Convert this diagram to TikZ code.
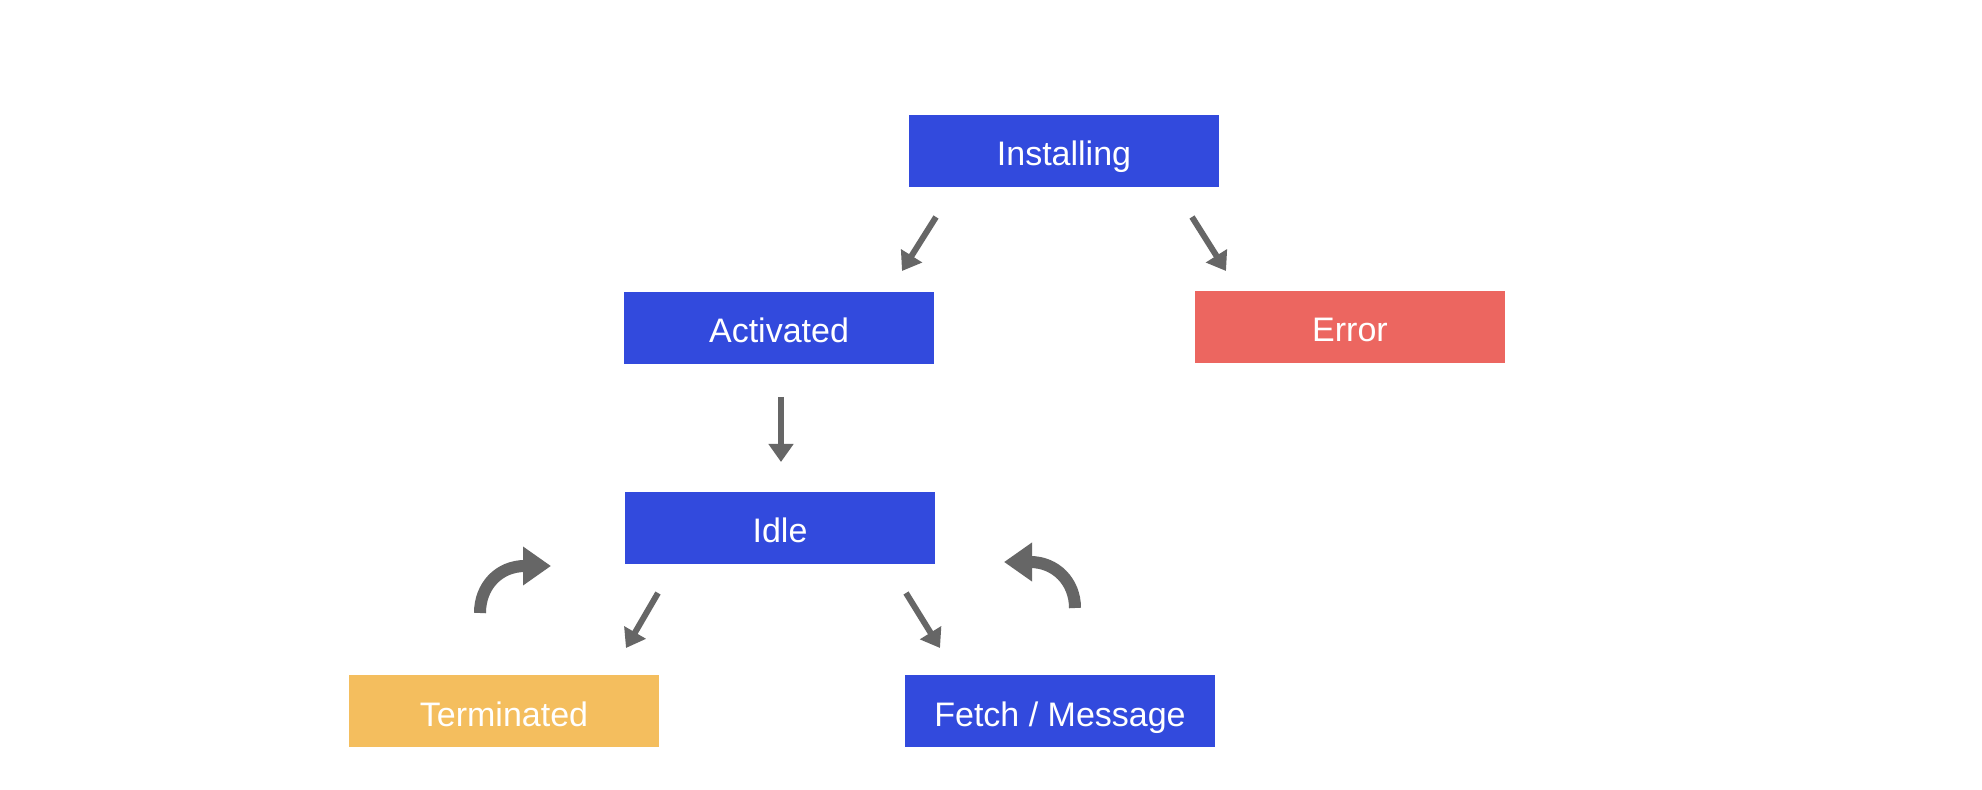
\documentclass[tikz,border=0pt]{standalone}
\usepackage{fontspec}
\setmainfont{Liberation Sans}
\usetikzlibrary{arrows.meta}
\definecolor{stblue}{RGB}{50,74,221}
\definecolor{stred}{RGB}{236,102,96}
\definecolor{styellow}{RGB}{244,190,94}
\definecolor{arrgray}{RGB}{102,102,102}
\begin{document}
\begin{tikzpicture}[x=0.5pt,y=-0.5pt,
  state/.style={rectangle, minimum width=155pt, minimum height=36pt, inner sep=0pt,
    text height=15pt, text depth=0pt,
    text=white, font=\fontsize{17}{20}\selectfont},
  thin arrow/.style={draw=arrgray, line width=3pt,
    -{Triangle[width=12pt,length=9pt]}},
  turn arrow/.style={draw=arrgray, line width=6pt,
    -{Triangle[width=18.5pt,length=14pt]}}]
\useasboundingbox (0,0) rectangle (1982,790);
\fill[white] (0,0) rectangle (1982,790);

\node[state, fill=stblue] (inst) at (1064,151) {Installing};
\node[state, fill=stblue] (act) at (779,328) {Activated};
\node[state, fill=stred] (err) at (1350,327) {Error};
\node[state, fill=stblue] (idle) at (780,528) {Idle};
\node[state, fill=styellow] (term) at (504,711) {Terminated};
\node[state, fill=stblue] (fetch) at (1060,711) {Fetch / Message};

\coordinate (ia1) at (936,217);
\coordinate (ia2) at (902,271);
\coordinate (ie1) at (1192,217);
\coordinate (ie2) at (1226,271);
\coordinate (ai1) at (781,397);
\coordinate (ai2) at (781,462);
\coordinate (it1) at (658,593);
\coordinate (it2) at (626,648);
\coordinate (if1) at (906,593);
\coordinate (if2) at (940,648);
\coordinate (tl1) at (480,613);
\coordinate (tl2) at (551,566);
\coordinate (fr1) at (1075,608);
\coordinate (fr2) at (1004,562);

\draw[thin arrow] (ia1) -- (ia2);
\draw[thin arrow] (ie1) -- (ie2);
\draw[thin arrow] (ai1) -- (ai2);
\draw[thin arrow] (it1) -- (it2);
\draw[thin arrow] (if1) -- (if2);

\draw[turn arrow] (tl1) .. controls (480,586) and (499,566) .. (525,566) -- (tl2);
\draw[turn arrow] (fr1) .. controls (1075,582) and (1056,562) .. (1030,562) -- (fr2);
\end{tikzpicture}
\end{document}
